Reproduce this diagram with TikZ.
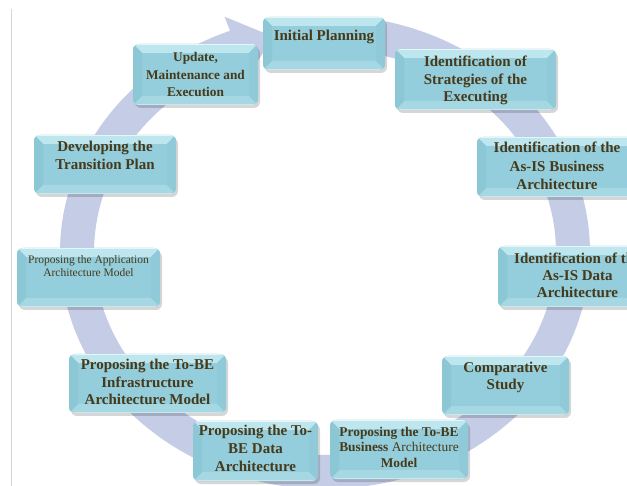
\documentclass[tikz,border=0pt]{standalone}
\usepackage{fontspec}
\setmainfont{Liberation Serif}
\usetikzlibrary{calc}
\definecolor{ringc}{RGB}{196,204,230}
\definecolor{facec}{RGB}{148,205,219}
\definecolor{topc}{RGB}{190,230,239}
\definecolor{botc}{RGB}{166,216,227}
\definecolor{leftc}{RGB}{140,199,213}
\definecolor{rightc}{RGB}{144,202,216}
\definecolor{txtc}{RGB}{70,58,26}
\definecolor{linec}{RGB}{212,212,212}
\newcommand\bxt[4]{\parbox[c][#2pt][t]{#1pt}{\centering\rule{0pt}{#3pt}#4}}
\tikzset{
  bevelbox/.style={rounded corners=6pt, fill=facec, draw=none, inner sep=0pt, outer sep=0pt,
    text=txtc, font=\bfseries\fontsize{15}{17.5}\selectfont,
    path picture={
      \coordinate (nw) at (path picture bounding box.north west);
      \coordinate (ne) at (path picture bounding box.north east);
      \coordinate (sw) at (path picture bounding box.south west);
      \coordinate (se) at (path picture bounding box.south east);
      \fill[topc, sharp corners] (nw) -- (ne) -- ($(ne)+(-9,9)$) -- ($(nw)+(9,9)$) -- cycle;
      \fill[botc, sharp corners] (sw) -- (se) -- ($(se)+(-9,-9)$) -- ($(sw)+(9,-9)$) -- cycle;
      \fill[leftc, sharp corners] (nw) -- (sw) -- ($(sw)+(9,-9)$) -- ($(nw)+(9,9)$) -- cycle;
      \fill[rightc, sharp corners] (ne) -- (se) -- ($(se)+(-9,-9)$) -- ($(ne)+(-9,9)$) -- cycle;
      \draw[white, opacity=0.6, line width=1.2pt, sharp corners] ($(nw)+(3,0.5)$) -- ($(ne)+(-3,0.5)$);
      \draw[white, opacity=0.4, line width=1pt, sharp corners] ($(sw)+(4,-0.5)$) -- ($(se)+(-4,-0.5)$);
    }},
  shadowbox/.style={rounded corners=6pt, fill=black, opacity=0.16, draw=none}
}
\newcommand\boxat[7]{%
  % #1 name, #2 cx, #3 cy, #4 w, #5 h, #6 first baseline, #7 text
  \fill[shadowbox] ($(#2,#3)+(-#4/2+2,-#5/2+3)$) rectangle ($(#2,#3)+(#4/2+2,#5/2+3)$);
  \node[bevelbox] (#1) at (#2,#3) {\bxt{#4}{#5}{#6}{#7}};
}
\begin{document}
\begin{tikzpicture}[x=1pt,y=-1pt]
\useasboundingbox (0,0) rectangle (627,486);
\clip (0,0) rectangle (627,486);
\fill[white] (0,0) rectangle (627,486);
\draw[linec, line width=1pt] (11,9) -- (11,486);
% circular arrow
\coordinate (C) at (325,252);
\fill[ringc]
  plot[domain=282:609, samples=160] ({325+265*cos(\x)},{252+237*sin(\x)})
  -- ({325+280*cos(609)},{252+252*sin(609)})
  -- ({325+248*cos(618)},{252+220*sin(618)})
  -- ({325+216*cos(609)},{252+188*sin(609)})
  -- plot[domain=609:282, samples=160] ({325+231*cos(\x)},{252+203*sin(\x)})
  -- cycle;
% boxes
\boxat{init}{324}{43.5}{122}{53}{24}{Initial Planning}
\boxat{strat}{475.5}{79.5}{161}{61}{18}{Identification of\\Strategies of the\\Executing}
\boxat{asbus}{557}{167}{160}{60}{16}{\fontsize{15}{18.5}\selectfont Identification of the\\As-IS Business\\Architecture}
\boxat{asdat}{577.5}{276.5}{159}{61}{18}{\fontsize{15}{17}\selectfont Identification of the\\As-IS Data\\Architecture}
\boxat{comp}{505.5}{385.5}{127}{59}{17}{\fontsize{15}{17}\selectfont Comparative\\Study}
\boxat{tobus}{399}{449.5}{138}{59}{16}{\fontsize{13.4}{16}\selectfont Proposing the To-BE\\Business {\mdseries Architecture}\\Model}
\boxat{todat}{255.5}{451}{125}{60}{15}{\fontsize{15}{18}\selectfont Proposing the To-\\BE Data\\Architecture}
\boxat{toinf}{147.5}{383.5}{157}{59}{16}{Proposing the To-BE\\Infrastructure\\Architecture Model}
\boxat{toapp}{88.5}{277.5}{143}{59}{16}{\mdseries\fontsize{11.5}{12.5}\selectfont Proposing the Application\\Architecture Model}
\boxat{dev}{105}{164.5}{142}{59}{17}{\fontsize{15}{18}\selectfont Developing the\\Transition Plan}
\boxat{upd}{195.5}{74.5}{125}{61}{18}{\fontsize{13.3}{17.5}\selectfont Update,\\Maintenance and\\Execution}
\end{tikzpicture}
\end{document}
